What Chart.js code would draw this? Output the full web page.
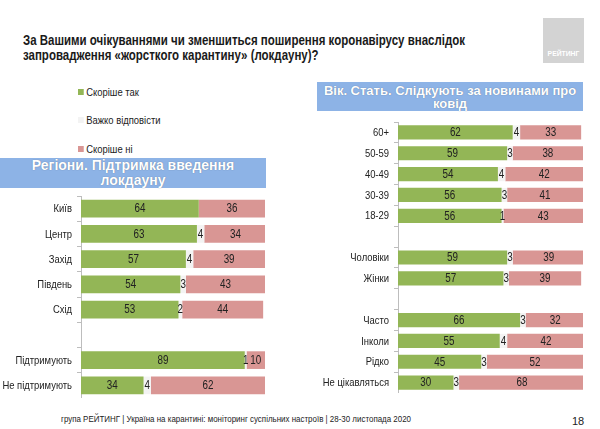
<!DOCTYPE html>
<html>
<head>
<meta charset="utf-8">
<script src="https://cdn.jsdelivr.net/npm/chart.js@4"></script>
<style>
  body { margin: 0; width: 600px; height: 429px; background: #fff; position: relative; overflow: hidden;
         font-family: "Liberation Sans", Arial, sans-serif; color: #222; }
  .abs { position: absolute; white-space: nowrap; }
  .narrow { transform: scaleX(0.82); transform-origin: left center; }
  #title { left: 23px; top: 33px; font: bold 14px "Liberation Sans", Arial, sans-serif; line-height: 15px; color: #1a1a1a; }
  #logo { left: 543px; top: 18px; width: 41px; height: 45px; background: #d3d3d3; color: #fff;
          font: bold 8px "Liberation Sans", sans-serif; text-align: center; line-height: 10px; }
  #logo span { position: absolute; left: 0; right: 0; top: 31px; transform: scaleX(0.85); }
  .leg { left: 78px; font-size: 11.5px; line-height: 12px; }
  .leg i { display: inline-block; width: 7px; height: 6px; margin-right: 3px; vertical-align: 1px; }
  .hdr { background: #8db3e6; color: #fff; text-align: center; font-weight: bold;
         font-family: "Liberation Sans", Arial, sans-serif; text-shadow: 0 0 1px #5a6f8c; }
  #hdrL { left: 0; top: 158px; width: 266px; height: 30px; font-size: 14px; line-height: 15px; }
  #hdrR { left: 317px; top: 82px; width: 266px; height: 29px; font-size: 13px; line-height: 13px; padding-top: 2px; box-sizing: border-box; }
  #footer { left: 61px; top: 413px; font-size: 9.7px; }
  #page { left: 572px; top: 415px; font-size: 11px; }
</style>
</head>
<body>
<div id="title" class="abs narrow">За Вашими очікуваннями чи зменшиться поширення коронавірусу внаслідок<br>запровадження «жорсткого карантину» (локдауну)?</div>
<div id="logo" class="abs"><span>РЕЙТИНГ</span></div>

<div class="abs leg narrow" style="top:86px"><i style="background:#93b656"></i>Скоріше так</div>
<div class="abs leg narrow" style="top:114px"><i style="background:#f3f3f3"></i>Важко відповісти</div>
<div class="abs leg narrow" style="top:143px"><i style="background:#d99694"></i>Скоріше ні</div>

<div id="hdrL" class="abs hdr">Регіони. Підтримка введення<br>локдауну</div>
<div id="hdrR" class="abs hdr">Вік. Стать. Слідкують за новинами про<br>ковід</div>

<div class="abs" style="left:0;top:196px;width:270px;height:202px"><canvas id="leftChart"></canvas></div>
<div class="abs" style="left:317px;top:122px;width:271px;height:271px"><canvas id="rightChart"></canvas></div>

<div id="footer" class="abs narrow">група РЕЙТИНГ | Україна на карантині: моніторинг суспільних настроїв | 28-30 листопада 2020</div>
<div id="page" class="abs">18</div>

<script>
// series names and colours
const seriesNames = ['Скоріше так', 'Важко відповісти', 'Скоріше ні'];
const seriesColors = ['#93b656', '#f3f3f3', '#d99694'];

// regions (empty label = gap row)
const regionLabels = ['Київ', 'Центр', 'Захід', 'Південь', 'Схід', '', 'Підтримують', 'Не підтримують'];
const regionYes = [64, 63, 57, 54, 53, null, 89, 34];
const regionHard = [0, 4, 4, 3, 2, null, 1, 4];
const regionNo = [36, 34, 39, 43, 44, null, 10, 62];

// age / sex / news
const groupLabels = ['60+', '50-59', '40-49', '30-39', '18-29', '', 'Чоловіки', 'Жінки', '', 'Часто', 'Інколи', 'Рідко', 'Не цікавляться'];
const groupYes = [62, 59, 54, 56, 56, null, 59, 57, null, 66, 55, 45, 30];
const groupHard = [4, 3, 4, 3, 1, null, 3, 3, null, 3, 4, 3, 3];
const groupNo = [33, 38, 42, 41, 43, null, 39, 39, null, 32, 42, 52, 68];

const FAMILY = '"Liberation Sans", Arial, sans-serif';
const SQUEEZE = 0.82; // fake Arial Narrow

function narrowText(ctx, text, x, y, align) {
  ctx.save();
  ctx.translate(x, y);
  ctx.scale(SQUEEZE, 1);
  ctx.textAlign = align;
  ctx.fillText(text, 0, 0);
  ctx.restore();
}

// category labels + value labels in the middle of every segment
const textLayer = {
  id: 'textLayer',
  afterDatasetsDraw(chart) {
    const ctx = chart.ctx;
    const yScale = chart.scales.y;
    ctx.save();
    ctx.fillStyle = '#222';
    ctx.textBaseline = 'middle';
    ctx.font = '11.5px ' + FAMILY;
    chart.data.labels.forEach((lab, i) => {
      if (lab) narrowText(ctx, lab, yScale.right - 9, yScale.getPixelForValue(i) + 0.5, 'right');
    });
    ctx.font = '12px ' + FAMILY;
    chart.data.datasets.forEach((ds, i) => {
      chart.getDatasetMeta(i).data.forEach((bar, j) => {
        const v = ds.data[j];
        if (!v) return;
        narrowText(ctx, String(v), (bar.x + bar.base) / 2, bar.y + 0.5, 'center');
      });
    });
    ctx.restore();
  }
};

function makeChart(id, labels, yes, hard, no, axisWidth, barPct) {
  const values = [yes, hard, no];
  return new Chart(document.getElementById(id), {
    type: 'bar',
    data: {
      labels: labels,
      datasets: values.map((d, i) => ({
        label: seriesNames[i],
        data: d,
        backgroundColor: seriesColors[i],
        categoryPercentage: 1,
        barPercentage: barPct
      }))
    },
    options: {
      indexAxis: 'y',
      responsive: true,
      maintainAspectRatio: false,
      animation: false,
      layout: { padding: { left: 0, right: 5, top: 0, bottom: 0 } },
      plugins: { legend: { display: false }, tooltip: { enabled: false } },
      scales: {
        x: { stacked: true, min: 0, max: 100, display: false },
        y: {
          stacked: true,
          afterFit(scale) { scale.width = axisWidth; },
          border: { display: true, color: '#bdbdbd' },
          grid: { drawOnChartArea: false, tickLength: 4, color: '#bdbdbd', offset: true },
          ticks: { display: false }
        }
      }
    },
    plugins: [textLayer]
  });
}

makeChart('leftChart', regionLabels, regionYes, regionHard, regionNo, 81, 0.7);
makeChart('rightChart', groupLabels, groupYes, groupHard, groupNo, 81, 0.68);
</script>
</body>
</html>
